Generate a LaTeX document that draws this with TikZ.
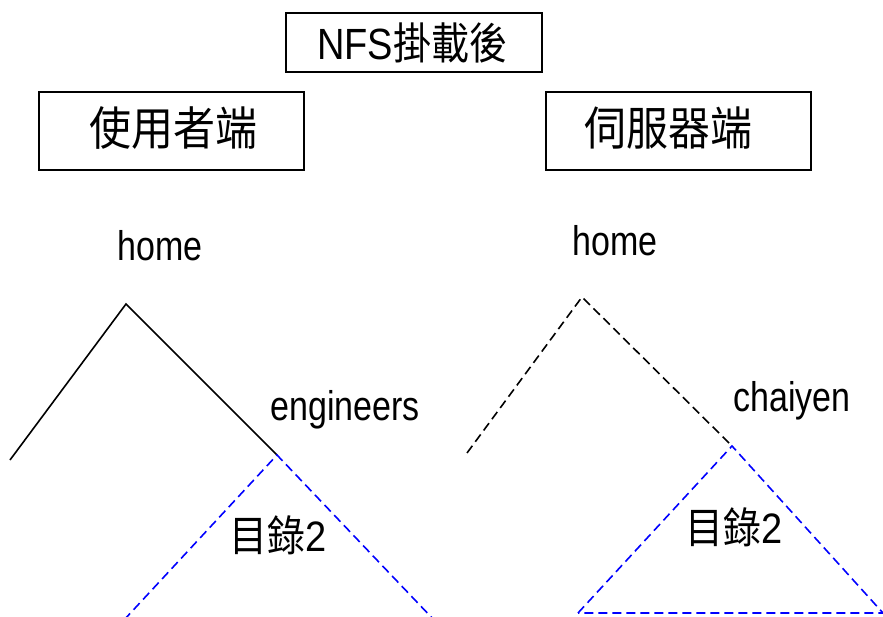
\documentclass[tikz,border=0pt]{standalone}
\usepackage{fontspec}
\setmainfont{Liberation Sans}
\newfontfamily\cjk{Noto Sans CJK TC}
\newcommand{\tall}[2]{\scalebox{1}[#1]{#2}}
\begin{document}
\begin{tikzpicture}[x=1pt,y=-1pt,
  titlebox/.style={draw=black,line width=1.5pt,inner sep=0pt},
  lbl/.style={inner sep=0pt,font=\fontsize{34}{40}\selectfont},
  cjklbl/.style={inner sep=0pt,font=\fontsize{38}{44}\selectfont},
  treeline/.style={black,line width=1.6pt},
  treedash/.style={black,line width=1.6pt,dash pattern=on 9pt off 5pt},
  bluedash/.style={blue,line width=1.6pt,dash pattern=on 9pt off 5pt}]
\useasboundingbox (0,0) rectangle (883,617);
% title boxes
\node[titlebox,minimum width=256pt,minimum height=59pt] (nfs) at (414,42.5) {};
\node[cjklbl] (nfst) at (412,43) {\tall{1.15}{NFS{\cjk 掛載後}}};
\node[titlebox,minimum width=265pt,minimum height=78pt] (client) at (171.5,131) {};
\node[inner sep=0pt,font=\fontsize{42}{48}\selectfont] (clientt) at (173,128) {\tall{1.1}{\cjk 使用者端}};
\node[titlebox,minimum width=265pt,minimum height=78pt] (server) at (678.5,131) {};
\node[inner sep=0pt,font=\fontsize{42}{48}\selectfont] (servert) at (668,128) {\tall{1.1}{\cjk 伺服器端}};
% labels
\node[lbl] (homeL) at (160,246) {\tall{1.22}{home}};
\node[lbl] (homeR) at (615,241) {\tall{1.22}{home}};
\node[lbl] (eng) at (345,410) {\tall{1.22}{engineers}};
\node[lbl] (chai) at (792,401) {\tall{1.22}{chaiyen}};
\node[cjklbl] (dirL) at (278,535) {\tall{1.12}{{\cjk 目錄}2}};
\node[cjklbl] (dirR) at (734,527) {\tall{1.12}{{\cjk 目錄}2}};
% left tree
\coordinate (la) at (126,304);
\coordinate (ll) at (10,460);
\coordinate (lr) at (277,455);
\coordinate (lbl1) at (124,620);
\coordinate (lbr) at (434,620);
\draw[treeline] (ll) -- (la) -- (lr);
\draw[bluedash] (lbl1) -- (lr) -- (lbr);
% right tree
\coordinate (ra) at (582,297);
\coordinate (rl) at (467,453);
\coordinate (rr) at (732,446);
\coordinate (rbl) at (578,613);
\coordinate (rbr) at (883,613);
\draw[treedash] (rl) -- (ra) -- (rr);
\draw[bluedash] (rbl) -- (rr) -- (rbr) -- cycle;
\end{tikzpicture}
\end{document}
